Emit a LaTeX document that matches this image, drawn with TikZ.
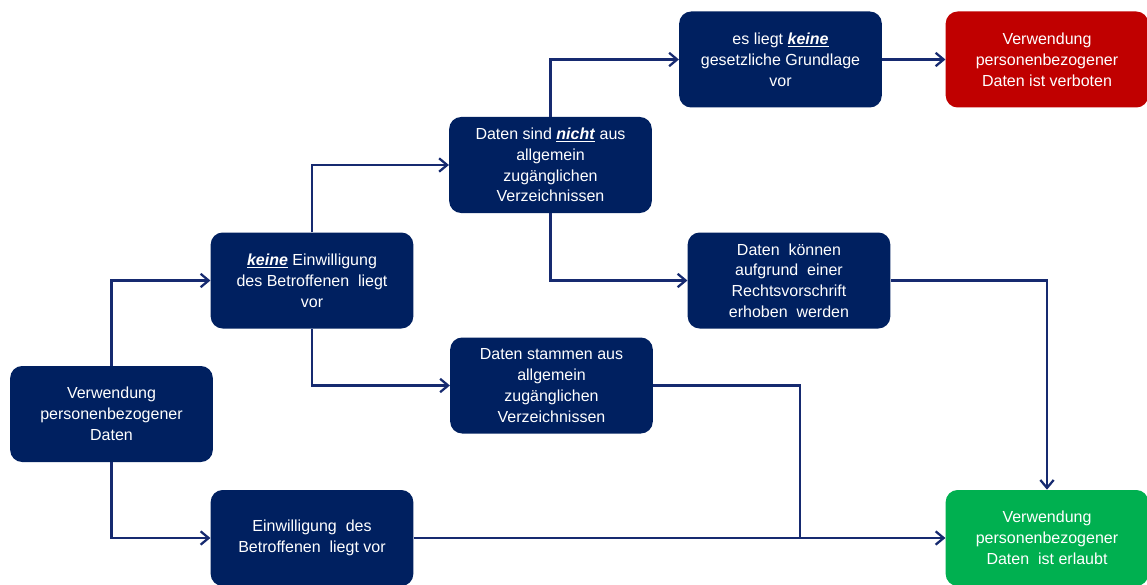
\documentclass[tikz,border=0pt]{standalone}
\usepackage{fontspec}
\setmainfont{Liberation Sans}
\usetikzlibrary{
  arrows.meta,
}
\definecolor{cNavy}{RGB}{  0, 32, 96}
\definecolor{cLine}{RGB}{ 22, 42,112}
\definecolor{cDeny}{RGB}{192,  0,  0}
\definecolor{cAllow}{RGB}{ 0,176, 80}
\newcommand{\emphkw}[1]{\underline{\textbf{\textit{#1}}}}
\tikzset{
  % Generic box
  box/.style={
    rectangle, rounded corners=9pt,
    draw=none, fill=#1, text=white,
    minimum width=152pt, minimum height=72pt,
    font=\fontsize{12}{15.6}\selectfont, align=center,
    inner sep=2pt,
  },
  box/.default=cNavy,
  % Arrow
  arr/.style={-{Straight Barb[length=6pt, width=10pt]}, line width=1.7pt, color=cLine},
  % Plain line
  link/.style={line width=1.7pt, color=cLine},
}

\begin{document}
\begin{tikzpicture}[x=0.75pt, y=-0.75pt]

\useasboundingbox (0,0) rectangle (1147,585);

% ── Start ─────────────────────────────────────────────────────────────────────
\node[box] (start) at (111.5,414) {Verwendung\\personenbezogener\\Daten};

% ── Consent branch ────────────────────────────────────────────────────────────
\node[box] (noconsent) at (312,280.5)
  {\emphkw{keine} Einwilligung\\des Betroffenen\ \ liegt\\vor};
\node[box] (consent) at (312,538)
  {Einwilligung\ \ des\\Betroffenen\ \ liegt vor};

% ── Source of the data ────────────────────────────────────────────────────────
\node[box] (notpublic) at (550.5,165)
  {Daten sind \emphkw{nicht} aus\\allgemein\\zugänglichen\\Verzeichnissen};
\node[box] (public) at (551.5,385.5)
  {Daten stammen aus\\allgemein\\zugänglichen\\Verzeichnissen};

% ── Legal basis ───────────────────────────────────────────────────────────────
\node[box] (nolaw) at (780.5,59.5)
  {es liegt \emphkw{keine}\\gesetzliche Grundlage\\vor};
\node[box] (law) at (789,280.5)
  {Daten\ \ können\\aufgrund\ \ einer\\Rechtsvorschrift\\erhoben\ \ werden};

% ── Outcomes ──────────────────────────────────────────────────────────────────
\node[box=cDeny] (forbidden) at (1047,59.5)
  {Verwendung\\personenbezogener\\Daten ist verboten};
\node[box=cAllow] (allowed) at (1047,538)
  {Verwendung\\personenbezogener\\Daten\ \ ist erlaubt};

\coordinate (merge) at (800,538);

% ── Connectors ────────────────────────────────────────────────────────────────
\draw[arr] (start.north) |- (noconsent.west);
\draw[arr] (start.south) |- (consent.west);
\draw[arr] (noconsent.north) |- (notpublic.west);
\draw[arr] (noconsent.south) |- (public.west);
\draw[arr] (notpublic.north) |- (nolaw.west);
\draw[arr] (notpublic.south) |- (law.west);
\draw[arr] (nolaw.east) -- (forbidden.west);
\draw[arr] (law.east) -| (allowed.north);
\draw[arr] (consent.east) -- (allowed.west);
\draw[link] (public.east) -| (merge);

\end{tikzpicture}
\end{document}
